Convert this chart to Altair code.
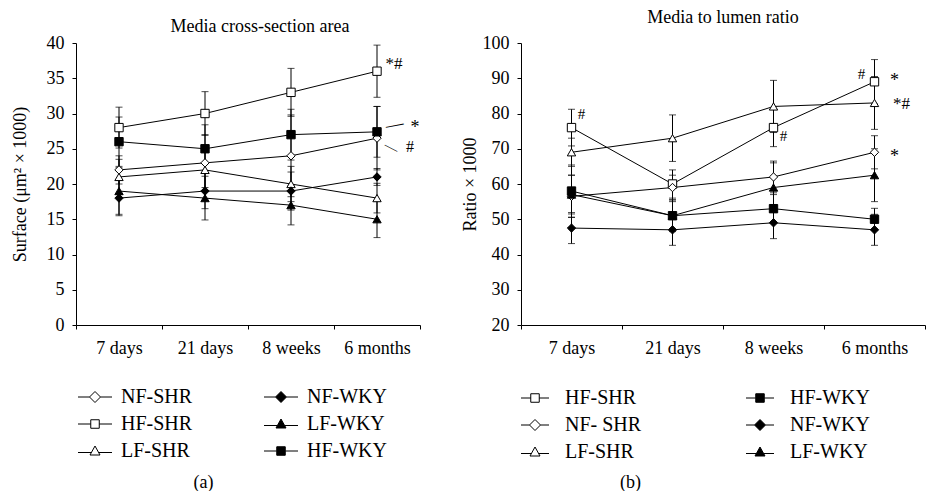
import altair as alt
import pandas as pd

FONT = "Liberation Serif"
periods = ["7 days", "21 days", "8 weeks", "6 months"]

# ---------------- Panel (a): Media cross-section area ----------------
a_groups = ["NF-SHR", "HF-SHR", "LF-SHR", "NF-WKY", "LF-WKY", "HF-WKY"]
a_nf_shr = [22, 23, 24, 26.5]
a_hf_shr = [28, 30, 33, 36]
a_lf_shr = [21, 22, 20, 18]
a_nf_wky = [18, 19, 19, 21]
a_lf_wky = [19, 18, 17, 15]
a_hf_wky = [26, 25, 27, 27.4]
a_err_nf_shr = [2.0, 4.0, 5.8, 4.5]
a_err_hf_shr = [2.9, 3.1, 3.4, 3.7]
a_err_lf_shr = [2.5, 2.5, 2.5, 2.1]
a_err_nf_wky = [2.5, 2.5, 2.7, 1.2]
a_err_lf_wky = [3.3, 3.1, 2.8, 2.6]
a_err_hf_wky = [3.5, 3.4, 3.6, 3.6]
a_legend_order = ["NF-SHR", "HF-SHR", "LF-SHR", "NF-WKY", "LF-WKY", "HF-WKY"]
a_ticks = [0, 5, 10, 15, 20, 25, 30, 35, 40]

# ---------------- Panel (b): Media to lumen ratio ----------------
b_groups = ["HF-SHR", "NF- SHR", "LF-SHR", "HF-WKY", "NF-WKY", "LF-WKY"]
b_hf_shr = [76, 60, 76, 89]
b_nf_shr = [56.5, 59, 62, 69]
b_lf_shr = [69, 73, 82, 83]
b_hf_wky = [58, 51, 53, 50]
b_nf_wky = [47.5, 47, 49, 47]
b_lf_wky = [57, 51, 59, 62.5]
b_err_hf_shr = [5.2, 4.0, 5.4, 6.3]
b_err_nf_shr = [6.0, 3.5, 4.5, 4.7]
b_err_lf_shr = [4.0, 6.6, 7.4, 7.5]
b_err_hf_wky = [7.4, 4.0, 4.0, 3.1]
b_err_nf_wky = [4.4, 4.4, 4.5, 4.4]
b_err_lf_wky = [5.5, 4.5, 7.0, 7.5]
b_legend_order = ["HF-SHR", "NF- SHR", "LF-SHR", "HF-WKY", "NF-WKY", "LF-WKY"]
b_ticks = [20, 30, 40, 50, 60, 70, 80, 90, 100]

# annotations: (period, y value, text, dx, angle, font size)
a_notes = [
    ("6 months", 37.0, "*#", 17, 0, 17),
    ("6 months", 27.9, "\u2014", 18, 349, 18),
    ("6 months", 28.0, "*", 38, 0, 18),
    ("6 months", 26.2, "\u2014", 16, 27, 14),
    ("6 months", 25.2, "#", 33, 0, 16),
]
b_notes = [
    ("7 days", 79.8, "#", 10, 0, 15),
    ("8 weeks", 73.5, "#", 10, 0, 15),
    ("6 months", 91.2, "#", -13, 0, 15),
    ("6 months", 89.3, "*", 20, 0, 18),
    ("6 months", 82.6, "*#", 27, 0, 17),
    ("6 months", 67.7, "*", 20, 0, 18),
]


def group_style(name):
    if name.startswith("NF"):
        shp = "diamond"
    elif name.startswith("HF"):
        shp = "square"
    else:
        shp = "triangle-up"
    fill = "white" if "SHR" in name else "black"
    return shp, fill


def legend_path(shp, stub):
    if shp == "diamond":
        return f"M-{stub},0H-1.1M1.1,0H{stub}M0,-1.1L1.1,0L0,1.1L-1.1,0Z"
    if shp == "square":
        return f"M-{stub},0H-0.85M0.85,0H{stub}M-0.85,-0.85H0.85V0.85H-0.85Z"
    return f"M-{stub},0.3H-0.72M0.72,0.3H{stub}M0,-1L1,0.8H-1Z"


def make_df(groups, means, errs):
    rows = []
    for g, m, e in zip(groups, means, errs):
        for i, p in enumerate(periods):
            rows.append({"group": g, "period": p, "idx": i, "mean": m[i],
                         "lo": m[i] - e[i], "hi": m[i] + e[i]})
    return pd.DataFrame(rows)


def panel(df, groups, legend_order, stub, ydomain, yticks, ytitle, ytitle_pad,
          title, title_dx, title_offset, width, height,
          legend_x, legend_y, col_pad, label_offset,
          caption, cap_x, cap_y, notes):
    xenc = alt.X("period:N", sort=periods,
                 scale=alt.Scale(domain=periods, paddingInner=0, paddingOuter=0),
                 axis=alt.Axis(title=caption, titleX=cap_x, titleY=cap_y,
                               titleBaseline="middle", titleFontSize=18,
                               tickBand="extent", labelAngle=0, labelFontSize=18,
                               labelPadding=10, tickSize=4))

    def yenc(field):
        return alt.Y(f"{field}:Q", scale=alt.Scale(domain=ydomain, nice=False, zero=False),
                     axis=alt.Axis(title=ytitle, values=yticks, titleFontSize=18,
                                   labelFontSize=18, titlePadding=ytitle_pad,
                                   labelPadding=8, tickSize=4))

    shp_range = [group_style(g)[0] for g in groups]
    fill_range = [group_style(g)[1] for g in groups]
    leg_shapes = [legend_path(group_style(g)[0], stub) for g in legend_order]
    leg_fills = [group_style(g)[1] for g in legend_order]
    leg_strokes = ["black" for g in legend_order]

    caps = pd.concat([df.assign(cap=df["lo"]), df.assign(cap=df["hi"])])

    bars = alt.Chart(df).mark_rule(color="black", strokeWidth=1).encode(
        x=xenc, y=yenc("lo"), y2="hi:Q")
    capm = alt.Chart(caps).mark_tick(color="black", thickness=1, size=7,
                                     orient="horizontal").encode(x=xenc, y=yenc("cap"))
    lines = alt.Chart(df).mark_line(color="black", strokeWidth=1).encode(
        x=xenc, y=yenc("mean"), detail="group:N", order="idx:Q")
    pts = alt.Chart(df).mark_point(filled=True, stroke="black", strokeWidth=1,
                                   opacity=1, size=70).encode(
        x=xenc, y=yenc("mean"),
        shape=alt.Shape("group:N", scale=alt.Scale(domain=groups, range=shp_range), legend=None),
        fill=alt.Fill("group:N", scale=alt.Scale(domain=groups, range=fill_range), legend=None))

    leg = alt.Legend(title=None, orient="none", legendX=legend_x, legendY=legend_y,
                     columns=2, columnPadding=col_pad, rowPadding=7, gridAlign="each",
                     labelFont=FONT, labelFontSize=20, labelColor="black",
                     labelOffset=label_offset, symbolSize=100, symbolStrokeWidth=1,
                     symbolStrokeColor="black", padding=0, labelLimit=200)
    legend_layer = alt.Chart(df).transform_filter("datum.mean < -1000").mark_point(
        filled=False, strokeWidth=1, opacity=1).encode(
        x=xenc, y=yenc("mean"),
        shape=alt.Shape("group:N", scale=alt.Scale(domain=legend_order, range=leg_shapes), legend=leg),
        fill=alt.Fill("group:N", scale=alt.Scale(domain=legend_order, range=leg_fills), legend=leg),
        stroke=alt.Stroke("group:N", scale=alt.Scale(domain=legend_order, range=leg_strokes), legend=leg))

    note_layers = []
    for (p, v, t, dx, ang, fs) in notes:
        nd = pd.DataFrame([{"period": p, "mean": v, "txt": t}])
        note_layers.append(
            alt.Chart(nd).mark_text(font=FONT, fontSize=fs, color="black", dx=dx,
                                    angle=ang, align="center", baseline="middle").encode(
                x=xenc, y=yenc("mean"), text="txt:N"))

    return alt.layer(bars, capm, lines, pts, *note_layers, legend_layer).resolve_scale(
        shape="independent", fill="independent", stroke="independent").properties(
        width=width, height=height,
        title=alt.TitleParams(title, font=FONT, fontSize=18, fontWeight="normal",
                              color="black", anchor="middle", dx=title_dx,
                              offset=title_offset))


a_df = make_df(a_groups, [a_nf_shr, a_hf_shr, a_lf_shr, a_nf_wky, a_lf_wky, a_hf_wky],
               [a_err_nf_shr, a_err_hf_shr, a_err_lf_shr, a_err_nf_wky, a_err_lf_wky, a_err_hf_wky])
b_df = make_df(b_groups, [b_hf_shr, b_nf_shr, b_lf_shr, b_hf_wky, b_nf_wky, b_lf_wky],
               [b_err_hf_shr, b_err_nf_shr, b_err_lf_shr, b_err_hf_wky, b_err_nf_wky, b_err_lf_wky])

pa = panel(a_df, a_groups, a_legend_order, 3.4, [0, 40], a_ticks,
           "Surface (\u03bcm\u00b2 \u00d7 1000)", 17,
           "Media cross-section area", 12, -2, 344, 282,
           9, 344, 69, 16, "(a)", 127, 157, a_notes)
pb = panel(b_df, b_groups, b_legend_order, 2.8, [20, 100], b_ticks,
           "Ratio \u00d7 1000", 3,
           "Media to lumen ratio", 0, 7, 404, 282,
           4, 345, 102, 20, "(b)", 109, 157, b_notes)

chart = alt.hconcat(pa, pb, spacing=40).properties(
    padding={"left": 3, "top": 1, "right": 0, "bottom": 0}
).configure_view(stroke=None).configure_axis(
    labelFont=FONT, titleFont=FONT, labelColor="black", titleColor="black",
    domainColor="black", tickColor="black", grid=False, titleFontWeight="normal",
    domainWidth=1, tickWidth=1
).configure_title(font=FONT)

chart.save("out.html", embed_options={"renderer": "svg", "actions": False})
